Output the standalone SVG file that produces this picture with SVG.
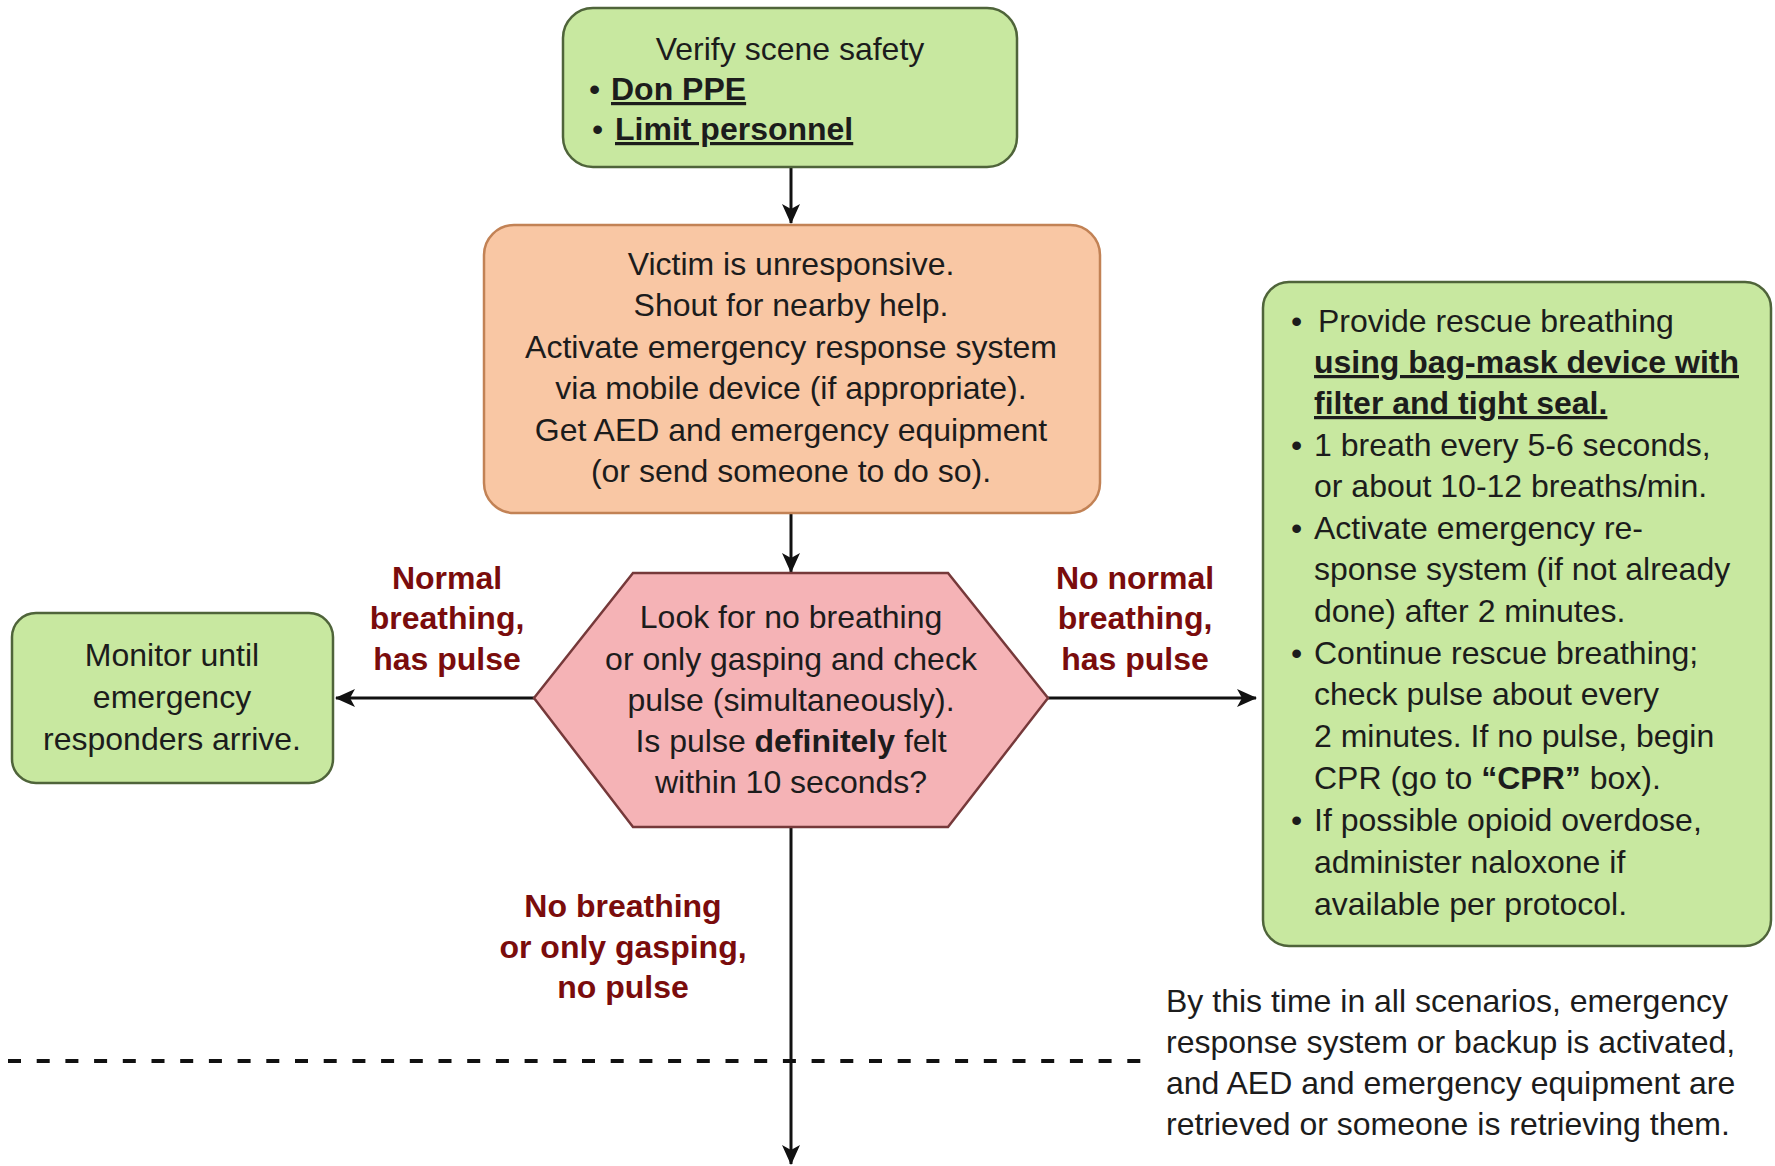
<svg xmlns="http://www.w3.org/2000/svg" width="1775" height="1166" viewBox="0 0 1775 1166">
<style>
  text { font-family: "Liberation Sans", Arial, sans-serif; font-size: 32px; fill: #1c1c1c; }
  .c { text-anchor: middle; }
  .b { font-weight: bold; }
  .u { text-decoration: underline; }
  .lbl { font-weight: bold; fill: #7a0c0c; text-anchor: middle; }
  .green { fill: #c8e8a0; stroke: #4f643a; stroke-width: 2.5; }
  .orange { fill: #f9c7a4; stroke: #c28255; stroke-width: 2.5; }
  .pink { fill: #f5b3b6; stroke: #76393a; stroke-width: 2.5; }
  .conn { stroke: #111; stroke-width: 3; fill: none; }
</style>
<defs>
  <marker id="arr" markerUnits="userSpaceOnUse" markerWidth="20" markerHeight="18" refX="19" refY="9" orient="auto">
    <path d="M0,0 L20,9 L0,18 L5,9 Z" fill="#111"/>
  </marker>
</defs>

<g id="connectors">
  <line class="conn" x1="791" y1="167" x2="791" y2="223" marker-end="url(#arr)"/>
  <line class="conn" x1="791" y1="513" x2="791" y2="572" marker-end="url(#arr)"/>
  <line class="conn" x1="534" y1="698" x2="336" y2="698" marker-end="url(#arr)"/>
  <line class="conn" x1="1048" y1="698" x2="1256" y2="698" marker-end="url(#arr)"/>
  <line class="conn" x1="791" y1="827" x2="791" y2="1164" marker-end="url(#arr)"/>
  <line x1="8" y1="1061" x2="1150" y2="1061" stroke="#111" stroke-width="4" stroke-dasharray="13 15.7"/>
</g>

<g id="node-scene-safety">
  <rect class="green" x="563" y="8" width="454" height="159" rx="30"/>
  <text class="c" x="790" y="60">Verify scene safety</text>
  <text x="589" y="100">•</text>
  <text class="b u" x="611" y="100">Don PPE</text>
  <text x="592" y="140">•</text>
  <text class="b u" x="615" y="140">Limit personnel</text>
</g>

<g id="node-unresponsive">
  <rect class="orange" x="484" y="225" width="616" height="288" rx="30"/>
  <text class="c" x="791" y="275">Victim is unresponsive.</text>
  <text class="c" x="791" y="316">Shout for nearby help.</text>
  <text class="c" x="791" y="358">Activate emergency response system</text>
  <text class="c" x="791" y="399">via mobile device (if appropriate).</text>
  <text class="c" x="791" y="441">Get AED and emergency equipment</text>
  <text class="c" x="791" y="482">(or send someone to do so).</text>
</g>

<g id="node-check">
  <polygon class="pink" points="534,698 633,573 948,573 1048,698 948,827 633,827"/>
  <text class="c" x="791" y="628">Look for no breathing</text>
  <text class="c" x="791" y="670">or only gasping and check</text>
  <text class="c" x="791" y="711">pulse (simultaneously).</text>
  <text class="c" x="791" y="752">Is pulse <tspan class="b">definitely</tspan> felt</text>
  <text class="c" x="791" y="793">within 10 seconds?</text>
</g>

<g id="node-monitor">
  <rect class="green" x="12" y="613" width="321" height="170" rx="24"/>
  <text class="c" x="172" y="666">Monitor until</text>
  <text class="c" x="172" y="708">emergency</text>
  <text class="c" x="172" y="750">responders arrive.</text>
</g>

<g id="node-rescue-breathing">
  <rect class="green" x="1263" y="282" width="508" height="664" rx="26"/>
  <text x="1291" y="332">•</text>
  <text x="1318" y="332">Provide rescue breathing</text>
  <text class="b u" x="1314" y="373">using bag-mask device with</text>
  <text class="b u" x="1314" y="414">filter and tight seal.</text>
  <text x="1291" y="456">•</text>
  <text x="1314" y="456">1 breath every 5-6 seconds,</text>
  <text x="1314" y="497">or about 10-12 breaths/min.</text>
  <text x="1291" y="539">•</text>
  <text x="1314" y="539">Activate emergency re-</text>
  <text x="1314" y="580">sponse system (if not already</text>
  <text x="1314" y="622">done) after 2 minutes.</text>
  <text x="1291" y="664">•</text>
  <text x="1314" y="664">Continue rescue breathing;</text>
  <text x="1314" y="705">check pulse about every</text>
  <text x="1314" y="747">2 minutes. If no pulse, begin</text>
  <text x="1314" y="789">CPR (go to <tspan class="b">“CPR”</tspan> box).</text>
  <text x="1291" y="831">•</text>
  <text x="1314" y="831">If possible opioid overdose,</text>
  <text x="1314" y="873">administer naloxone if</text>
  <text x="1314" y="915">available per protocol.</text>
</g>

<g id="label-normal">
  <text class="lbl" x="447" y="589">Normal</text>
  <text class="lbl" x="447" y="629">breathing,</text>
  <text class="lbl" x="447" y="670">has pulse</text>
</g>

<g id="label-no-normal">
  <text class="lbl" x="1135" y="589">No normal</text>
  <text class="lbl" x="1135" y="629">breathing,</text>
  <text class="lbl" x="1135" y="670">has pulse</text>
</g>

<g id="label-no-breathing">
  <text class="lbl" x="623" y="917">No breathing</text>
  <text class="lbl" x="623" y="958">or only gasping,</text>
  <text class="lbl" x="623" y="998">no pulse</text>
</g>

<g id="note">
  <text x="1166" y="1012">By this time in all scenarios, emergency</text>
  <text x="1166" y="1053">response system or backup is activated,</text>
  <text x="1166" y="1094">and AED and emergency equipment are</text>
  <text x="1166" y="1135">retrieved or someone is retrieving them.</text>
</g>
</svg>
